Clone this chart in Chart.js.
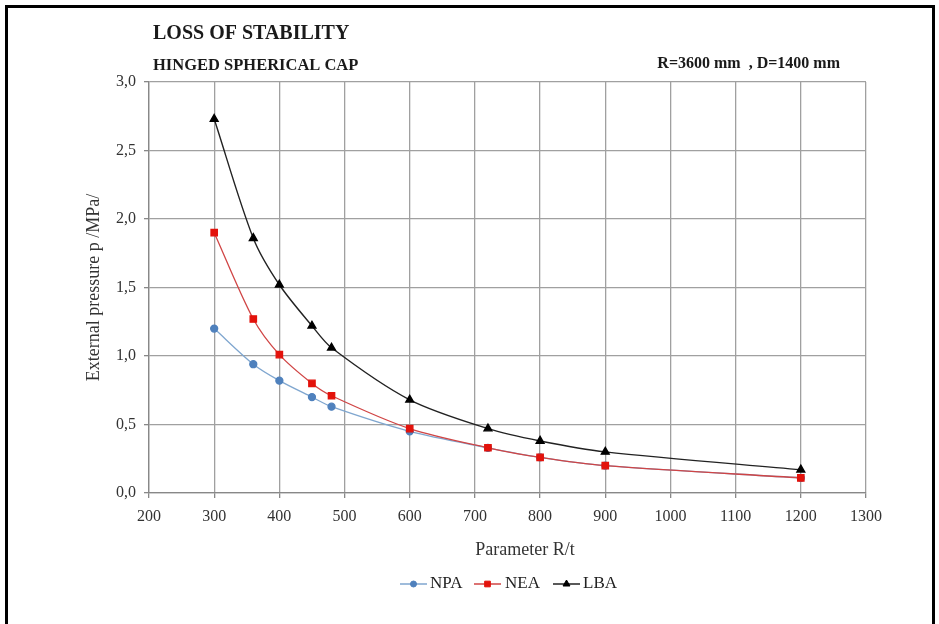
<!DOCTYPE html>
<html>
<head>
<meta charset="utf-8">
<script src="https://cdn.jsdelivr.net/npm/chart.js@4.4.1/dist/chart.umd.min.js"></script>
<style>
  html, body { margin: 0; padding: 0; background: #fff; }
  #wrap { position: relative; width: 939px; height: 624px; overflow: hidden; }
  #frame { position: absolute; left: 5px; top: 5px; width: 924px; height: 640px;
           border: 3px solid #000; pointer-events: none; }
</style>
</head>
<body>
<div id="wrap">
  <canvas id="canvas" width="939" height="624"></canvas>
  <div id="frame"></div>
</div>
<script>
// valori
const ratioRt = [300, 360, 400, 450, 480, 600, 720, 800, 900, 1200];
const npa = [1.20, 0.94, 0.82, 0.70, 0.63, 0.45, 0.33, 0.26, 0.20, 0.11];
const nea = [1.90, 1.27, 1.01, 0.80, 0.71, 0.47, 0.33, 0.26, 0.20, 0.11];
const lba = [2.73, 1.86, 1.52, 1.22, 1.06, 0.68, 0.47, 0.38, 0.30, 0.17];
const seriesNames = ["NPA", "NEA", "LBA"];
const xTicks = [200, 300, 400, 500, 600, 700, 800, 900, 1000, 1100, 1200, 1300];
const yTicks = [0, 0.5, 1.0, 1.5, 2.0, 2.5, 3.0];

const serif = "'Liberation Serif', 'Times New Roman', serif";

function punti(vals) {
  return ratioRt.map((x, i) => ({ x: x, y: vals[i] }));
}

// testi sopra il grafico, titolo asse x e legenda
const testiExtra = {
  id: "testiExtra",
  afterDraw(chart) {
    const ctx = chart.ctx;
    ctx.save();
    ctx.fillStyle = "#1a1a1a";
    ctx.textBaseline = "alphabetic";
    ctx.textAlign = "left";
    ctx.font = "bold 20px " + serif;
    ctx.fillText("LOSS OF STABILITY", 153, 39);
    ctx.font = "bold 16.5px " + serif;
    ctx.fillText("HINGED SPHERICAL CAP", 153, 70);
    ctx.textAlign = "right";
    ctx.font = "bold 16px " + serif;
    ctx.fillText("R=3600 mm  , D=1400 mm", 840, 68);

    ctx.textAlign = "center";
    ctx.textBaseline = "middle";
    ctx.fillStyle = "#333";
    ctx.font = "18px " + serif;
    ctx.fillText("Parameter R/t", 525, 550);

    // legenda
    const voci = [
      { x: 400, tx: 430 },
      { x: 474, tx: 505 },
      { x: 553, tx: 583 }
    ];
    ctx.font = "17px " + serif;
    ctx.textAlign = "left";
    chart.data.datasets.forEach((ds, i) => {
      const v = voci[i];
      const y = 584;
      ctx.strokeStyle = ds.borderColor;
      ctx.lineWidth = 1.5;
      ctx.beginPath();
      ctx.moveTo(v.x, y);
      ctx.lineTo(v.x + 27, y);
      ctx.stroke();
      ctx.fillStyle = ds.pointBackgroundColor;
      ctx.strokeStyle = ds.pointBorderColor;
      ctx.lineWidth = 1;
      Chart.helpers.drawPoint(ctx, {
        pointStyle: ds.pointStyle,
        radius: ds.pointRadius - 0.5,
        borderWidth: 1
      }, v.x + 13.5, y);
      ctx.fillStyle = "#222";
      ctx.fillText(ds.label, v.tx, y);
    });
    ctx.restore();
  }
};

const grafico = new Chart("canvas", {
  type: "line",
  data: {
    datasets: [
      {
        label: seriesNames[0],
        data: punti(npa),
        order: 3,
        borderColor: "#7fa6cf",
        backgroundColor: "#4f81bd",
        pointBackgroundColor: "#4f81bd",
        pointBorderColor: "#4f81bd",
        pointStyle: "circle",
        pointRadius: 3.5,
        borderWidth: 1.3,
        tension: 0.3
      },
      {
        label: seriesNames[1],
        data: punti(nea),
        order: 2,
        borderColor: "#d04545",
        backgroundColor: "#e3120b",
        pointBackgroundColor: "#e3120b",
        pointBorderColor: "#e3120b",
        pointStyle: "rect",
        pointRadius: 4.5,
        borderWidth: 1.3,
        tension: 0.3
      },
      {
        label: seriesNames[2],
        data: punti(lba),
        order: 1,
        borderColor: "#222222",
        backgroundColor: "#000000",
        pointBackgroundColor: "#000000",
        pointBorderColor: "#000000",
        pointStyle: "triangle",
        pointRadius: 4.5,
        borderWidth: 1.4,
        tension: 0.3
      }
    ]
  },
  options: {
    responsive: false,
    animation: false,
    layout: { padding: { left: 83, top: 82, right: 73, bottom: 64 } },
    plugins: {
      legend: { display: false },
      tooltip: { enabled: false }
    },
    scales: {
      x: {
        type: "linear",
        min: 200,
        max: 1300,
        afterBuildTicks: (s) => { s.ticks = xTicks.map(v => ({ value: v })); },
        afterFit: (s) => { s.height = 67; },
        grid: { color: "#a0a0a0", lineWidth: 1.3, tickLength: 5, tickColor: "#888" },
        border: { color: "#888", width: 1.3 },
        ticks: {
          color: "#333",
          padding: 9,
          maxRotation: 0,
          font: { family: serif, size: 16 },
          callback: (v) => String(v)
        }
      },
      y: {
        min: 0,
        max: 3,
        afterBuildTicks: (s) => { s.ticks = yTicks.map(v => ({ value: v })); },
        afterFit: (s) => { s.width = 66; },
        grid: { color: "#a0a0a0", lineWidth: 1.3, tickLength: 5, tickColor: "#888" },
        border: { color: "#888", width: 1.3 },
        title: {
          display: true,
          text: "External pressure p /MPa/",
          color: "#333",
          padding: 0,
          font: { family: serif, size: 18 }
        },
        ticks: {
          color: "#333",
          padding: 8,
          font: { family: serif, size: 16 },
          callback: (v) => v.toFixed(1).replace(".", ",")
        }
      }
    }
  },
  plugins: [testiExtra]
});
</script>
</body>
</html>
